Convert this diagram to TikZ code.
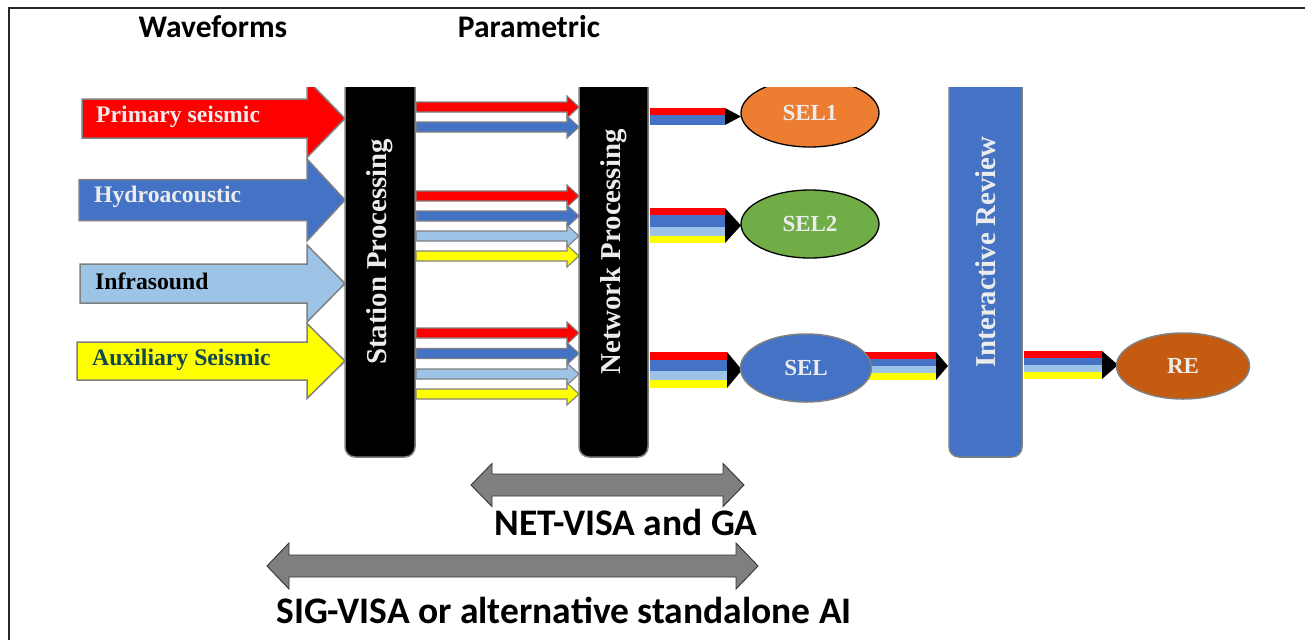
\documentclass[tikz,border=0pt]{standalone}
\usepackage{fontspec}
\setmainfont{Liberation Serif}
\newfontfamily\calib{Carlito}
\usetikzlibrary{shapes.geometric}
\definecolor{cblue}{RGB}{68,114,196}
\definecolor{clblue}{RGB}{157,195,230}
\definecolor{cred}{RGB}{255,0,0}
\definecolor{cyel}{RGB}{255,255,0}
\definecolor{corange}{RGB}{237,125,49}
\definecolor{cgreen}{RGB}{112,173,71}
\definecolor{crust}{RGB}{197,90,17}
\definecolor{cgray}{RGB}{128,128,128}
\definecolor{cdgray}{RGB}{127,127,127}
\definecolor{ctxt}{RGB}{236,236,236}
\definecolor{cteal}{RGB}{18,72,76}
% #1 start x, #2 tip x, #3 centre y, #4 body half, #5 head half, #6 head length, #7 style
\newcommand{\rarrow}[7]{\path[#7] (#1,#3-#4) -- (#2-#6,#3-#4) -- (#2-#6,#3-#5) -- (#2,#3) -- (#2-#6,#3+#5) -- (#2-#6,#3+#4) -- (#1,#3+#4) -- cycle;}
% #1 left tip, #2 right tip, #3 centre y, #4 body half, #5 head half, #6 head length
\newcommand{\darrow}[6]{\path[dblarrow] (#1,#3) -- (#1+#6,#3-#5) -- (#1+#6,#3-#4) -- (#2-#6,#3-#4) -- (#2-#6,#3-#5) -- (#2,#3) -- (#2-#6,#3+#5) -- (#2-#6,#3+#4) -- (#1+#6,#3+#4) -- (#1+#6,#3+#5) -- cycle;}
\tikzset{
  box/.style={draw=cgray, line width=1.5pt, rounded corners=10pt, inner sep=0pt},
  boxtext/.style={text=ctxt, font=\fontsize{28.8}{30}\selectfont\bfseries, rotate=90, inner sep=0pt},
  bigarrow/.style={draw=cgray, line width=1.5pt, line join=miter},
  smallarrow/.style={draw=cgray, line width=1.1pt, line join=miter},
  dblarrow/.style={draw=black!80, fill=cdgray, line width=0.9pt, line join=miter},
  arrowlabel/.style={anchor=west, inner sep=0pt, font=\fontsize{23.7}{26}\selectfont\bfseries},
  sel/.style={ellipse, inner sep=0pt, text=ctxt, font=\fontsize{23}{26}\selectfont\bfseries},
  heading/.style={inner sep=0pt, font=\calib\bfseries\fontsize{31.5}{34}\selectfont},
  bottomtext/.style={inner sep=0pt, font=\calib\bfseries\fontsize{37.5}{40}\selectfont},
}
\begin{document}
\begin{tikzpicture}[x=1pt,y=-1pt]
\useasboundingbox (0,0) rectangle (1305,640);
\fill[white] (0,0) rectangle (1305,640);
% frame
\draw[black!85, line width=1.4pt] (9,640) -- (9,8) -- (1305,8);

% headings
\node[heading] (wf) at (213,27) {Waveforms};
\node[heading] (pm) at (529,27) {Parametric};

% striped connectors (drawn first, ellipses on top)
\foreach \ya/\yb/\c in {108/115/cred,115/125/cblue}
  {\fill[\c] (650,\ya) rectangle (725,\yb);}
\fill[black] (725,108) -- (741,116.5) -- (725,125) -- cycle;

\foreach \ya/\yb/\c in {208/215/cred,215/227/cblue,227/236/clblue,236/243/cyel}
  {\fill[\c] (650,\ya) rectangle (725,\yb);}
\fill[black] (725,208) -- (741,225.5) -- (725,243) -- cycle;

\foreach \ya/\yb/\c in {352/360/cred,360/371/cblue,371/380/clblue,380/388/cyel}
  {\fill[\c] (650,\ya) rectangle (727,\yb);}
\fill[black] (727,352) -- (742,370) -- (727,388) -- cycle;

\foreach \ya/\yb/\c in {352/359/cred,359/366/cblue,366/373/clblue,373/380/cyel}
  {\fill[\c] (860,\ya) rectangle (936,\yb);}
\fill[black] (936,352) -- (948,366) -- (936,380) -- cycle;

\foreach \ya/\yb/\c in {351/358/cred,358/365/cblue,365/372/clblue,372/379/cyel}
  {\fill[\c] (1024,\ya) rectangle (1102,\yb);}
\fill[black] (1102,351) -- (1118,365) -- (1102,379) -- cycle;

\begin{scope}
\clip (0,87) rectangle (1305,640);
% processing boxes
\node[box, fill=black, minimum width=70pt, minimum height=410pt] (stp) at (380,252) {};
\node[box, fill=black, minimum width=69pt, minimum height=410pt] (net) at (613.5,252) {};
\node[box, fill=cblue, minimum width=73pt, minimum height=410pt] (ir) at (985.5,252) {};
% big input arrows
\rarrow{82}{345}{118.5}{19.5}{39}{38}{bigarrow, fill=cred}
\rarrow{79}{345}{200}{20.5}{41}{38}{bigarrow, fill=cblue}
\rarrow{80}{345}{283.5}{19.5}{38.5}{38}{bigarrow, fill=clblue}
\rarrow{77}{345}{361}{19}{37.5}{38}{bigarrow, fill=cyel}
% SEL1
\node[sel, draw=black, line width=1.3pt, fill=corange, minimum width=138pt, minimum height=68pt] (sel1) at (810,113) {SEL1};
\end{scope}

\node[boxtext] (stpt) at (stp.center) {Station Processing};
\node[boxtext] (nett) at (net.center) {Network Processing};
\node[boxtext] (irt) at (ir.center) {Interactive Review};

\node[arrowlabel, text=ctxt] (l1) at (96,117) {Primary seismic};
\node[arrowlabel, text=ctxt] (l2) at (94,197) {Hydroacoustic};
\node[arrowlabel, text=black] (l3) at (95,281) {Infrasound};
\node[arrowlabel, text=cteal] (l4) at (92,360) {Auxiliary Seismic};

% parametric arrows station -> network
\foreach \y/\c in {107/cred,127/cblue,196/cred,216/cblue,236/clblue,256/cyel,333/cred,353.5/cblue,374/clblue,394/cyel}
  {\rarrow{416}{579}{\y}{5}{11}{12}{smallarrow, fill=\c}}

% ellipses
\node[sel, draw=black, line width=1.3pt, fill=cgreen, minimum width=138pt, minimum height=68pt] (sel2) at (810,224) {SEL2};
\node[sel, draw=cgray, line width=1.5pt, fill=cblue, minimum width=131pt, minimum height=68pt] (sel) at (806,368) {SEL};
\node[sel, draw=cgray, line width=1.5pt, fill=crust, minimum width=133pt, minimum height=66pt] (re) at (1183,366) {RE};

% double arrows
\darrow{471}{744}{485}{11}{21.5}{21}
\darrow{267}{758}{566}{11}{23}{22}
\node[bottomtext] (nv) at (626,522) {NET-VISA and GA};
\node[bottomtext] (sv) at (564,610) {SIG-VISA or alternative standalone AI};
\end{tikzpicture}
\end{document}
